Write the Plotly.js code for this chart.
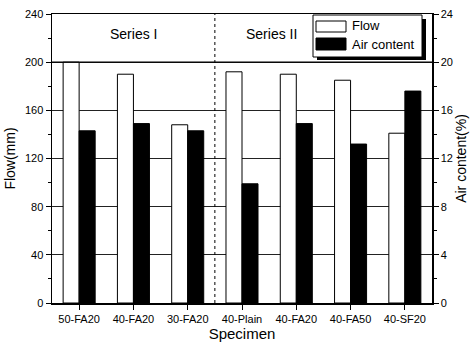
<!DOCTYPE html>
<html>
<head>
<meta charset="utf-8">
<script src="https://cdn.plot.ly/plotly-3.0.1.min.js"></script>
<style>html,body{margin:0;padding:0;background:#fff;}#chart{width:470px;height:345px;}</style>
</head>
<body>
<div id="chart"></div>
<script>
const categories = ["50-FA20", "40-FA20", "30-FA20", "40-Plain", "40-FA20 ", "40-FA50", "40-SF20"];
const tickLabels = ["50-FA20", "40-FA20", "30-FA20", "40-Plain", "40-FA20", "40-FA50", "40-SF20"];
const flowValues = [200, 190, 148, 192, 190, 185, 141];
const airValues = [14.3, 14.9, 14.3, 9.9, 14.9, 13.2, 17.6];
const seriesLabels = ["Series I", "Series II"];

const FONT = "Arial, 'Liberation Sans', sans-serif";
const L = 52, R = 432, T = 14, B = 303;
const px = v => (v - L) / (R - L);
const py = v => (B - v) / (B - T);

const traces = [
  {
    type: "bar", name: "Flow", x: categories, y: flowValues,
    yaxis: "y", offsetgroup: "1",
    marker: {color: "#ffffff", line: {color: "#000000", width: 1}},
    showlegend: false
  },
  {
    type: "bar", name: "Air content", x: categories, y: airValues,
    yaxis: "y2", offsetgroup: "2",
    marker: {color: "#000000", line: {color: "#000000", width: 1}},
    showlegend: false
  }
];

const shapes = [
  {type: "line", xref: "x", yref: "paper", x0: 2.5, x1: 2.5, y0: 0, y1: 1,
   line: {color: "#000", width: 1, dash: "dot"}},
  {type: "line", xref: "paper", yref: "y", x0: 0, x1: 1, y0: 200, y1: 200,
   line: {color: "#000", width: 1.2}},
  // legend shadow
  {type: "rect", xref: "paper", yref: "paper", x0: px(317), x1: px(426), y0: py(60), y1: py(19),
   fillcolor: "#000", line: {width: 0}},
  // legend box
  {type: "rect", xref: "paper", yref: "paper", x0: px(313), x1: px(422), y0: py(57), y1: py(15),
   fillcolor: "#fff", line: {color: "#000", width: 1}},
  // swatches
  {type: "rect", xref: "paper", yref: "paper", x0: px(316), x1: px(346), y0: py(32), y1: py(21),
   fillcolor: "#fff", line: {color: "#000", width: 1}},
  {type: "rect", xref: "paper", yref: "paper", x0: px(316), x1: px(346), y0: py(50), y1: py(38),
   fillcolor: "#000", line: {color: "#000", width: 1}}
];

const annotations = [
  {xref: "x", yref: "y", x: 1, y: 223, text: seriesLabels[0], showarrow: false,
   xanchor: "center", yanchor: "middle",
   font: {family: FONT, size: 14, color: "#000"}},
  {xref: "paper", yref: "y", x: px(271), y: 223, text: seriesLabels[1], showarrow: false,
   xanchor: "center", yanchor: "middle",
   font: {family: FONT, size: 14, color: "#000"}},
  {xref: "paper", yref: "paper", x: px(350), y: py(26), text: traces[0].name, showarrow: false,
   xanchor: "left", yanchor: "middle", font: {family: FONT, size: 13, color: "#000"}},
  {xref: "paper", yref: "paper", x: px(350), y: py(44), text: traces[1].name, showarrow: false,
   xanchor: "left", yanchor: "middle", font: {family: FONT, size: 13, color: "#000"}}
];

const axisCommon = {
  showline: true, linecolor: "#000", linewidth: 1.5,
  ticks: "outside", ticklen: 5, tickwidth: 1, tickcolor: "#000",
  tickfont: {family: FONT, size: 11, color: "#000"},
  zeroline: false
};

const layout = {
  width: 470, height: 345,
  margin: {l: L, r: 470 - R, t: T, b: 345 - B},
  paper_bgcolor: "#fff", plot_bgcolor: "#fff",
  barmode: "group", bargap: 0.41, bargroupgap: 0,
  showlegend: false,
  xaxis: Object.assign({}, axisCommon, {
    type: "category", tickvals: categories, ticktext: tickLabels,
    range: [-0.5, 6.5], mirror: true, ticks: "outside",
    title: {text: "Specimen", font: {family: FONT, size: 15, color: "#000"}, standoff: 4}
  }),
  yaxis: Object.assign({}, axisCommon, {
    range: [0, 240], dtick: 40, tick0: 0,
    showgrid: true, gridcolor: "#222", gridwidth: 1,
    minor: {dtick: 20, ticks: "outside", ticklen: 3, tickcolor: "#000", showgrid: false},
    title: {text: "Flow(mm)", font: {family: FONT, size: 14, color: "#000"}, standoff: 6}
  }),
  yaxis2: Object.assign({}, axisCommon, {
    overlaying: "y", side: "right",
    range: [0, 24], dtick: 4, tick0: 0, showgrid: false,
    minor: {dtick: 2, ticks: "outside", ticklen: 3, tickcolor: "#000", showgrid: false},
    title: {text: "Air content(%)", font: {family: FONT, size: 14, color: "#000"}, standoff: 4}
  }),
  shapes: shapes,
  annotations: annotations
};

Plotly.newPlot("chart", traces, layout, {staticPlot: true, displayModeBar: false});
</script>
</body>
</html>
